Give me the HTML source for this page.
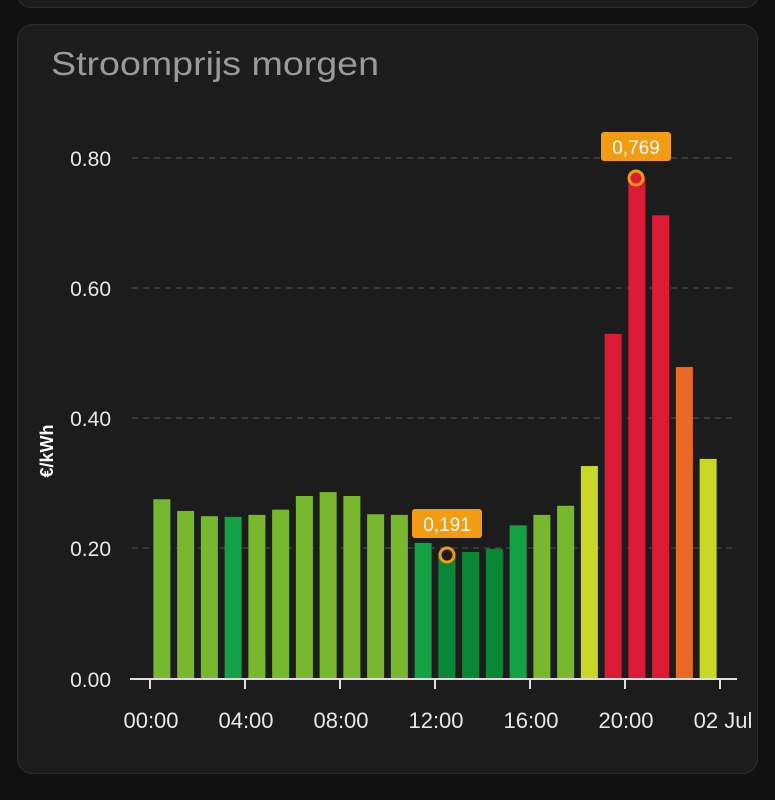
<!DOCTYPE html>
<html><head><meta charset="utf-8"><style>
html,body{margin:0;padding:0;background:#111;width:775px;height:800px;overflow:hidden;font-family:"Liberation Sans",sans-serif}
.top{position:absolute;left:17px;top:-20px;width:740px;height:26px;border:1px solid #2e2e2e;border-radius:16px;background:#1c1c1c}
.card{position:absolute;left:17px;top:24px;width:739px;height:748px;border:1px solid #2e2e2e;border-radius:16px;background:#1c1c1c}
</style></head><body>
<div class="top"></div>
<div class="card"></div>
<svg width="775" height="800" style="position:absolute;left:0;top:0">
<text x="51" y="75" fill="#9a9a9a" font-size="33" textLength="328" lengthAdjust="spacingAndGlyphs" font-family="Liberation Sans,sans-serif">Stroomprijs morgen</text>
<g stroke="#555" stroke-dasharray="6,5" stroke-width="1">
<line x1="132" y1="158" x2="737" y2="158"/><line x1="132" y1="288" x2="737" y2="288"/>
<line x1="132" y1="418" x2="737" y2="418"/><line x1="132" y1="548" x2="737" y2="548"/>
</g>
<g fill="#e8e8e8" font-size="21" text-anchor="end">
<text x="111" y="166">0.80</text><text x="111" y="296">0.60</text><text x="111" y="426">0.40</text><text x="111" y="556">0.20</text><text x="111" y="687">0.00</text>
</g>
<text transform="translate(53,451) rotate(-90)" fill="#fff" font-size="18" font-weight="bold" text-anchor="middle">€/kWh</text>
<g id="bars"></g>
<line x1="130" y1="679" x2="737" y2="679" stroke="#ddd" stroke-width="2"/>
<g stroke="#ddd" stroke-width="2">
<line x1="150" y1="679" x2="150" y2="689"/><line x1="245" y1="679" x2="245" y2="689"/><line x1="340" y1="679" x2="340" y2="689"/><line x1="435" y1="679" x2="435" y2="689"/><line x1="530" y1="679" x2="530" y2="689"/><line x1="625" y1="679" x2="625" y2="689"/><line x1="720" y1="679" x2="720" y2="689"/>
</g>
<g fill="#e8e8e8" font-size="22" text-anchor="middle">
<text x="151" y="728">00:00</text><text x="246" y="728">04:00</text><text x="341" y="728">08:00</text><text x="436" y="728">12:00</text><text x="531" y="728">16:00</text><text x="626" y="728">20:00</text><text x="723" y="728">02 Jul</text>
</g>
<rect x="412" y="509" width="70" height="29" rx="3" fill="#f39c12"/>
<text x="447" y="531" fill="#fff" font-size="19" text-anchor="middle">0,191</text>
<circle cx="447" cy="555" r="7" fill="#1c1c1c" stroke="#f39c12" stroke-width="3"/>
<rect x="601" y="132" width="70" height="29" rx="3" fill="#f39c12"/>
<text x="636" y="154" fill="#fff" font-size="19" text-anchor="middle">0,769</text>
<circle cx="636" cy="178" r="7" fill="#dc1a35" stroke="#f39c12" stroke-width="3"/>
</svg>
<script>
var v=[.276,.258,.250,.249,.252,.260,.281,.287,.281,.253,.252,.209,.191,.195,.200,.236,.252,.266,.327,.530,.769,.712,.479,.338];
var c="LLLMLLLLLLLMDDDMLLYRRROY";
var col={L:"#78b82e",M:"#14a045",D:"#0a8736",Y:"#c8d824",R:"#dc1a35",O:"#e86a24"};
var g=document.getElementById("bars"),s="";
for(var i=0;i<24;i++){var h=v[i]*651.25,cx=150+23.75*(i+0.5);
s+='<rect x="'+(cx-8.5)+'" y="'+(679-h)+'" width="17" height="'+h+'" fill="'+col[c[i]]+'"/>';}
g.innerHTML=s;
</script>
</body></html>
